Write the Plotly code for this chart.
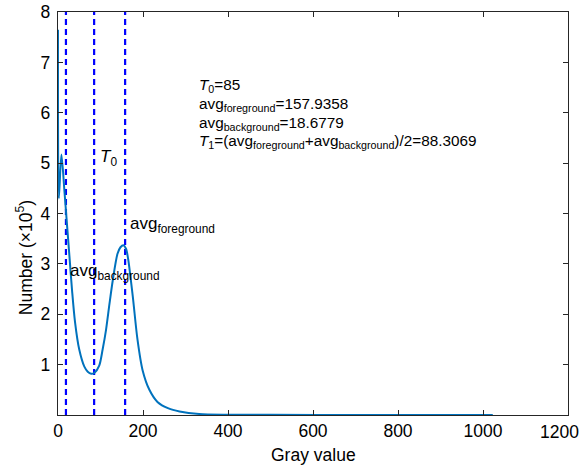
import plotly.graph_objects as go

# Gray-level histogram (counts in units of 1e5)
gray = [0, 2, 8, 15, 21, 27, 33, 40, 50, 62, 70, 78, 86, 97, 105, 113, 121, 129,
        140, 147, 154, 160, 165, 176, 187, 199, 215, 234, 260, 286, 332, 400,
        500, 700, 1023]
count = [7.65, 4.3, 5.17, 4.46, 3.80, 3.14, 2.48, 1.85, 1.30, 0.96, 0.86, 0.82,
         0.84, 0.98, 1.30, 1.69, 2.20, 2.68, 3.20, 3.33, 3.37, 3.30, 3.10, 2.35,
         1.50, 0.89, 0.50, 0.26, 0.13, 0.07, 0.02, 0.006, 0.003, 0.002, 0.002]

# Threshold markers
avg_background = 18.6779
T0 = 85
avg_foreground = 157.9358
T1 = 88.3069
marker_x = [avg_background, T0, avg_foreground]

x_ticks = [0, 200, 400, 600, 800, 1000, 1200]
x_tick_text = ["0", "200", "400", "600", "800", "1000", ""]  # last label drawn separately
y_ticks = [1, 2, 3, 4, 5, 6, 7, 8]

FONT = "Liberation Sans, Arial, sans-serif"
INK = "#262626"

fig = go.Figure()

for xv in marker_x:
    fig.add_trace(go.Scatter(
        x=[xv, xv], y=[0, 8], mode="lines",
        line=dict(color="#0000FF", width=2.2, dash="6px,4px"),
        hoverinfo="skip", showlegend=False))

fig.add_trace(go.Scatter(
    x=gray, y=count, mode="lines",
    line=dict(color="#0072BD", width=2, shape="spline", smoothing=0.8),
    showlegend=False))

label_font = dict(family=FONT, size=17, color="black")
fig.add_annotation(x=95, y=5.1, xref="x", yref="y", text="<i>T</i><sub>0</sub>",
                   showarrow=False, xanchor="left", yanchor="middle", font=label_font)
fig.add_annotation(x=164, y=3.77, xref="x", yref="y", text="avg<sub>foreground</sub>",
                   showarrow=False, xanchor="left", yanchor="middle", font=label_font)
fig.add_annotation(x=23, y=2.84, xref="x", yref="y", text="avg<sub>background</sub>",
                   showarrow=False, xanchor="left", yanchor="middle", font=label_font)

info_lines = [
    f"<i>T</i><sub>0</sub>={T0}",
    f"avg<sub>foreground</sub>={avg_foreground:.4f}",
    f"avg<sub>background</sub>={avg_background:.4f}",
    f"<i>T</i><sub>1</sub>=(avg<sub>foreground</sub>+avg<sub>background</sub>)/2={T1:.4f}",
]
info_y = [6.55, 6.16, 5.79, 5.42]
for txt, yv in zip(info_lines, info_y):
    fig.add_annotation(x=326, y=yv, xref="x", yref="y", text=txt, showarrow=False,
                       xanchor="left", yanchor="middle",
                       font=dict(family=FONT, size=15.3, color="black"))

tick_font = dict(family=FONT, size=17.5, color="black")

# right-most x tick label, nudged inward so it stays inside the figure
fig.add_annotation(x=x_ticks[-1], y=-0.042, xref="x", yref="paper",
                   text=str(x_ticks[-1]), showarrow=False, xshift=-9,
                   xanchor="center", yanchor="middle", font=tick_font)

fig.add_annotation(x=0.5, y=-0.1, xref="paper", yref="paper", text="Gray value",
                   showarrow=False, xanchor="center", yanchor="middle",
                   font=dict(family=FONT, size=17.5, color="black"))
fig.add_annotation(x=-0.066, y=0.39, xref="paper", yref="paper",
                   text="Number (×10<sup>5</sup>)", textangle=-90, showarrow=False,
                   xanchor="center", yanchor="middle",
                   font=dict(family=FONT, size=17.5, color="black"))

axis_common = dict(showline=True, linecolor=INK, linewidth=1.3, mirror="ticks",
                   ticks="inside", ticklen=5, tickcolor=INK, tickwidth=1.3,
                   showgrid=False, zeroline=False, automargin=False,
                   tickfont=tick_font)

fig.update_layout(
    template="none",
    width=588, height=466,
    margin=dict(l=58, r=20, t=12, b=51, pad=0),
    paper_bgcolor="white", plot_bgcolor="white",
    xaxis=dict(range=[0, 1200], tickvals=x_ticks, ticktext=x_tick_text, **axis_common),
    yaxis=dict(range=[0, 8], tickvals=y_ticks, ticklabelstandoff=3, **axis_common),
)

fig.write_html("out.html")
